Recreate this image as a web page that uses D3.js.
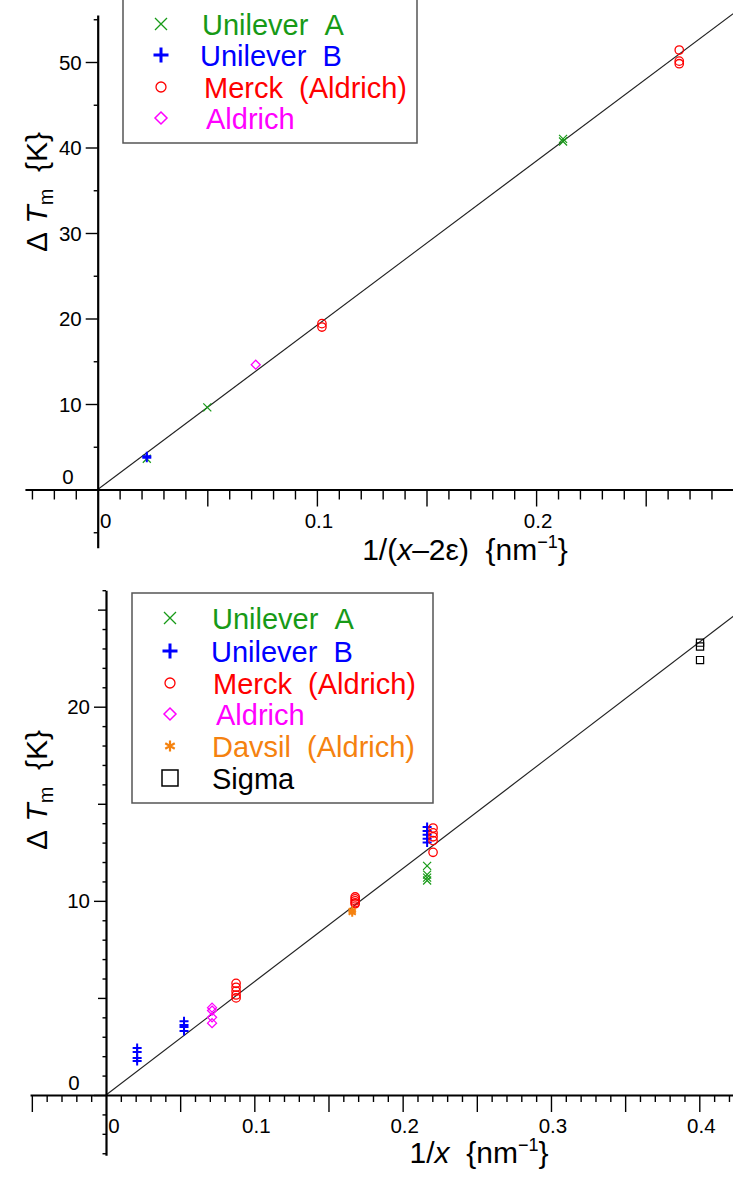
<!DOCTYPE html>
<html><head><meta charset="utf-8">
<script src="https://cdn.jsdelivr.net/npm/d3@7"></script>
<style>
body{margin:0;background:#fff}
svg{display:block}
text{font-family:"Liberation Sans",Arial,Helvetica,sans-serif}
</style>
</head><body>
<svg id="c" width="733" height="1177"></svg>
<script>
// ---------- DATA ----------
// Top panel: x = 1/(x-2ε) {nm^-1}, y = ΔTm {K}
const topUnileverA = [[0.0224, 3.6], [0.050, 9.6], [0.2123, 40.7], [0.2123, 41.0]];
const topUnileverB = [[0.0224, 3.7], [0.0224, 3.9]];
const topMerck     = [[0.1023, 19.4], [0.1023, 19.0], [0.2653, 51.4], [0.2653, 49.8], [0.2653, 50.1]];
const topAldrich   = [[0.0721, 14.6]];
const topFitSlope  = 192;
const topXTickLabels = [0, 0.1, 0.2];
const topYTickLabels = [0, 10, 20, 30, 40, 50];

// Bottom panel: x = 1/x {nm^-1}, y = ΔTm {K}
const botUnileverA = [[0.2165, 11.8], [0.2165, 11.35], [0.2165, 11.2], [0.2165, 11.05]];
const botUnileverB = [[0.021, 2.42], [0.021, 2.22], [0.021, 1.91], [0.021, 1.75],
                      [0.0526, 3.8], [0.0526, 3.6], [0.0526, 3.5], [0.0526, 3.3],
                      [0.2165, 13.8], [0.2165, 13.6], [0.2165, 13.4], [0.2165, 13.2], [0.2165, 13.0]];
const botMerck     = [[0.0877, 5.75], [0.0877, 5.55], [0.0877, 5.35], [0.0877, 5.15], [0.0877, 5.0],
                      [0.168, 10.2], [0.168, 10.1], [0.168, 10.0], [0.168, 9.9], [0.168, 9.85],
                      [0.2205, 13.75], [0.2205, 13.5], [0.2205, 13.3], [0.2205, 13.1], [0.2205, 12.5]];
const botAldrich   = [[0.0715, 4.5], [0.0715, 4.35], [0.0715, 4.0], [0.0715, 3.7]];
const botDavsil    = [[0.166, 9.5], [0.166, 9.4]];
const botSigma     = [[0.4005, 23.3], [0.4005, 23.1], [0.4005, 22.4]];
const botFitSlope  = 58.3;
const botXTickLabels = [0, 0.1, 0.2, 0.3, 0.4];
const botYTickLabels = [0, 10, 20];

const legendTop = ["Unilever\u00a0\u00a0A", "Unilever\u00a0\u00a0B", "Merck\u00a0\u00a0(Aldrich)", "Aldrich"];
const legendBot = ["Unilever\u00a0\u00a0A", "Unilever\u00a0\u00a0B", "Merck\u00a0\u00a0(Aldrich)", "Aldrich", "Davsil\u00a0\u00a0(Aldrich)", "Sigma"];

// ---------- STYLE ----------
const C = {ua: "#179a17", ub: "#0000ff", mk: "#ff0000", al: "#ff00ff", dv: "#f5820f", sg: "#000000"};
const svg = d3.select("#c");

function markerPath(type, s) {
  switch (type) {
    case "x": return `M${-s},${-s}L${s},${s}M${-s},${s}L${s},${-s}`;
    case "+": return `M${-s},0H${s}M0,${-s}V${s}`;
    case "d": return `M0,${-s}L${s},0L0,${s}L${-s},0Z`;
    case "s": return `M${-s},${-s}H${s}V${s}H${-s}Z`;
    case "*": {
      let p = "";
      [90, 30, -30].forEach(a => {
        const r = a * Math.PI / 180, dx = s * Math.cos(r), dy = s * Math.sin(r);
        p += `M${-dx},${-dy}L${dx},${dy}`;
      });
      return p;
    }
  }
}
function drawMarker(g, type, color, x, y, big) {
  if (type === "o") {
    g.append("circle").attr("cx", x).attr("cy", y).attr("r", big ? 5 : 4.2)
      .attr("fill", "none").attr("stroke", color).attr("stroke-width", 1.3);
    return;
  }
  const cfg = {
    x: big ? [6, 1.3] : [4, 1.2],
    "+": big ? [7.5, 3] : [4.5, 2],
    d: big ? [6, 1.5] : [4.5, 1.3],
    s: big ? [8, 1.5] : [3.6, 1.2],
    "*": big ? [5.5, 2.2] : [4.2, 2]
  }[type];
  g.append("path").attr("d", markerPath(type, cfg[0])).attr("transform", `translate(${x},${y})`)
    .attr("fill", "none").attr("stroke", color).attr("stroke-width", cfg[1]);
}

function range(a, b, step) { const out = []; for (let v = a; v <= b + 1e-9; v += step) out.push(+v.toFixed(4)); return out; }

function panel(p) {
  const g = svg.append("g");
  const x = d3.scaleLinear().domain(p.xd).range(p.xr);
  const y = d3.scaleLinear().domain(p.yd).range(p.yr);
  const x0 = x(0), y0 = y(0);

  // fit line through the origin
  g.append("line").attr("x1", x(0)).attr("y1", y(0))
    .attr("x2", x(p.xExt[1])).attr("y2", y(p.slope * p.xExt[1]))
    .attr("stroke", "#222").attr("stroke-width", 1.1);

  // x axis
  const xa = d3.scaleLinear().domain(p.xExt).range([x(p.xExt[0]), x(p.xExt[1])]);
  const all = range(p.xMinor[0], p.xMinor[1], 0.01).filter(v => Math.abs(v) > 1e-6);
  const isMaj = v => Math.abs(Math.round(v / 0.05) * 0.05 - v) < 1e-6;
  const gx = g.append("g").attr("transform", `translate(0,${y0})`);
  gx.call(d3.axisBottom(xa).tickValues(all.filter(v => !isMaj(v))).tickSize(p.xMinorLen).tickSizeOuter(0).tickFormat(""));
  gx.append("g").call(d3.axisBottom(xa).tickValues(all.filter(isMaj)).tickSize(17).tickSizeOuter(0).tickFormat(""))
    .select(".domain").remove();
  gx.selectAll(".domain").attr("stroke", "#000").attr("stroke-width", 2.2);
  gx.selectAll(".tick line").attr("stroke", "#000").attr("stroke-width", 1.4);

  // y axis
  const ya = d3.scaleLinear().domain(p.yExt).range([y(p.yExt[0]), y(p.yExt[1])]);
  const gy = g.append("g").attr("transform", `translate(${x0},0)`);
  gy.call(d3.axisLeft(ya).tickValues(p.yMajor).tickSize(12).tickSizeOuter(0).tickFormat(""));
  if (p.yMid) gy.append("g").call(d3.axisLeft(ya).tickValues(p.yMid).tickSize(p.yMidLen).tickSizeOuter(0).tickFormat("")).select(".domain").remove();
  if (p.yMinor) gy.append("g").call(d3.axisLeft(ya).tickValues(p.yMinor).tickSize(3.5).tickSizeOuter(0).tickFormat("")).select(".domain").remove();
  gy.selectAll(".domain").attr("stroke", "#000").attr("stroke-width", 2.2);
  gy.selectAll(".tick line").attr("stroke", "#000").attr("stroke-width", 1.4);

  // tick labels
  p.xLabels.forEach(v => {
    g.append("text").attr("x", x(v) + (v === 0 ? 8 : 2)).attr("y", y0 + 38)
      .attr("text-anchor", "middle").attr("font-size", 20.5).text(v === 0 ? "0" : d3.format(".1f")(v));
  });
  p.yLabels.forEach(v => {
    g.append("text").attr("x", v === 0 ? p.y0LabelX : x0 - 16).attr("y", y(v) + 7.5 - (v === 0 ? 13 : 0))
      .attr("text-anchor", v === 0 ? "middle" : "end").attr("font-size", 20.5).text(v);
  });

  // axis titles
  const xt = g.append("text").attr("x", p.xTitle[0]).attr("y", p.xTitle[1]).attr("text-anchor", "middle").attr("font-size", 30);
  p.xTitleParts(xt);
  const yt = g.append("text").attr("transform", `translate(${p.yTitle[0]},${p.yTitle[1]}) rotate(-90)`)
    .attr("text-anchor", "middle").attr("font-size", 30);
  yt.append("tspan").text("\u0394\u00a0");
  yt.append("tspan").attr("font-style", "italic").text("T");
  yt.append("tspan").attr("font-size", 20).attr("dy", 6).text("m");
  yt.append("tspan").attr("dy", -6).text("\u00a0\u00a0{K}");

  // data
  p.series.forEach(s => s.data.forEach(d => drawMarker(g, s.type, s.color, x(d[0]), y(d[1]), false)));

  // legend
  const L = p.legend;
  g.append("rect").attr("x", L.box[0]).attr("y", L.box[1]).attr("width", L.box[2] - L.box[0]).attr("height", L.box[3] - L.box[1])
    .attr("fill", "#fff").attr("stroke", "#555").attr("stroke-width", 1.5);
  p.series.forEach((s, i) => {
    drawMarker(g, s.type, s.color, L.symX, L.rows[i], true);
    g.append("text").attr("x", L.textX + (L.dx ? L.dx[i] : 0)).attr("y", L.rows[i] + 11).attr("font-size", 29)
      .attr("fill", s.color).text(L.labels[i]);
  });
}

panel({
  xd: [0, 0.2], xr: [97.7, 536.1], yd: [0, 50], yr: [489.5, 62],
  xExt: [-0.0332, 0.2899], yExt: [-6.8, 55.5], xMinor: [-0.03, 0.28], xMinorLen: 10,
  yMajor: [0, 10, 20, 30, 40, 50], yMid: [-5, 5, 15, 25, 35, 45, 55], yMidLen: 4,
  slope: topFitSlope, xLabels: topXTickLabels, yLabels: topYTickLabels, y0LabelX: 68,
  xTitle: [465, 560],
  xTitleParts: t => {
    t.append("tspan").text("1/(");
    t.append("tspan").attr("font-style", "italic").text("x");
    t.append("tspan").text("\u20132\u03b5)\u00a0\u00a0{nm");
    t.append("tspan").attr("font-size", 18).attr("dy", -12).text("\u22121");
    t.append("tspan").attr("dy", 12).text("}");
  },
  yTitle: [47, 192],
  series: [
    {data: topUnileverA, type: "x", color: C.ua},
    {data: topUnileverB, type: "+", color: C.ub},
    {data: topMerck, type: "o", color: C.mk},
    {data: topAldrich, type: "d", color: C.al}
  ],
  legend: {box: [123, -3, 417, 143], symX: 161, textX: 202, dx: [0, -2, 2, 4], rows: [24, 55, 87, 118], labels: legendTop}
});

panel({
  xd: [0, 0.4], xr: [106, 699.3], yd: [0, 20], yr: [1095, 706.7],
  xExt: [-0.0512, 0.4235], yExt: [-3.1, 26], xMinor: [-0.05, 0.42], xMinorLen: 7,
  yMajor: [0, 10, 20], yMid: [-5, 5, 15, 25], yMidLen: 8,
  yMinor: range(-3, 26, 1).filter(v => v % 5 !== 0),
  slope: botFitSlope, xLabels: botXTickLabels, yLabels: botYTickLabels, y0LabelX: 74,
  xTitle: [479, 1163],
  xTitleParts: t => {
    t.append("tspan").text("1/");
    t.append("tspan").attr("font-style", "italic").text("x");
    t.append("tspan").text("\u00a0\u00a0{nm");
    t.append("tspan").attr("font-size", 18).attr("dy", -12).text("\u22121");
    t.append("tspan").attr("dy", 12).text("}");
  },
  yTitle: [47, 790],
  series: [
    {data: botUnileverA, type: "x", color: C.ua},
    {data: botUnileverB, type: "+", color: C.ub},
    {data: botMerck, type: "o", color: C.mk},
    {data: botAldrich, type: "d", color: C.al},
    {data: botDavsil, type: "*", color: C.dv},
    {data: botSigma, type: "s", color: C.sg}
  ],
  legend: {box: [132, 593, 433, 803], symX: 170, textX: 212, dx: [0, -1, 1, 4, 0, 0], rows: [618, 651, 683, 714, 746, 778], labels: legendBot}
});
</script>
</body></html>
